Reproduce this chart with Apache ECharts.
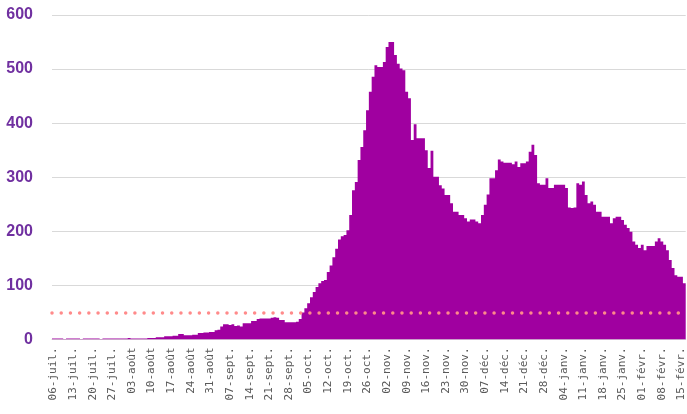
<!DOCTYPE html>
<html>
<head>
<meta charset="utf-8">
<script src="https://cdn.jsdelivr.net/npm/echarts@6/dist/echarts.min.js"></script>
<style>
  html, body { margin: 0; padding: 0; background: #fff; }
  #container { width: 687px; height: 414px; }
</style>
</head>
<body>
<div id="container"></div>
<script>
var dom = document.getElementById("container");
var myChart = echarts.init(dom, null, { renderer: 'canvas' });

// jours depuis le 06-juil.
var startDate = [2020, 6, 6];
var monthNames = ['janv.', 'févr.', 'mars', 'avr.', 'mai', 'juin', 'juil.', 'août', 'sept.', 'oct.', 'nov.', 'déc.'];

// valeurs quotidiennes
var summer = [2,2,2,2,1,2,2, 2,2,2,1,2,2,2, 2,2,2,1,2,2,2, 2,2,2,2,2,2,3, 2,2,2,2,2,2,
  3,3,3,4,4,4, 6,6,6,7,7, 10,10, 8,8,8,9,9, 12,12,13,13,14,14, 17,18, 24,
  28,28,27,28, 25,26,24, 30,30,30, 34,34, 38,39,39,39,39, 40,41,40, 36,36, 32,32,32,32,33];
var autumn = [38,50,58,67,78,88,97,104,108,110,125,137,152,168,185,191,193,202,230,276,291,332,356,387,
  424,458,486,507,504,504,513,541,550,550,526,510,501,498,458,446,
  369,398,372,372,372,350,317,349,301,301,285,279,267,267,252,236,236,230,230,224];
var winter = [218,222,222,218,215,230,249,268,298,298,313,333,329,327,327,327,324,329,319,326,326,329,347,360,341,
  289,286,286,298,280,280,286,286,286,286,280,244,243,244,289,286,292,267,252,255,249,236,236,227,227,227,215,
  224,227,227,221,212,206,199,181,175,169,175,165,173,173,173,181,187,181,175,165,147,132,119,116,116,104];
var values = summer.concat(autumn, winter);

var threshold = 50;
var yTicks = { min: 0, max: 600, interval: 100 };
var barColor = '#a000a0';

var days = values.map(function (v, i) {
  var d = new Date(Date.UTC(startDate[0], startDate[1], startDate[2] + i));
  var dd = ('0' + d.getUTCDate()).slice(-2);
  return dd + '-' + monthNames[d.getUTCMonth()];
});

var option = {
  animation: false,
  grid: { left: 52, right: 0, top: 15, bottom: 74.5 },
  xAxis: {
    type: 'category',
    data: days,
    boundaryGap: true,
    axisLine: { lineStyle: { color: '#d9d9d9', width: 1 } },
    axisTick: { show: false },
    axisLabel: {
      interval: 6,
      rotate: 90,
      margin: 8,
      color: '#595959',
      fontFamily: 'DejaVu Sans Mono',
      fontSize: 11
    }
  },
  yAxis: {
    type: 'value',
    min: yTicks.min,
    max: yTicks.max,
    interval: yTicks.interval,
    axisLine: { show: false },
    axisTick: { show: false },
    splitLine: { lineStyle: { color: '#d9d9d9', width: 1 } },
    axisLabel: {
      margin: 19,
      color: '#7030a0',
      fontWeight: 'bold',
      fontFamily: 'Liberation Sans',
      fontSize: 16
    }
  },
  series: [{
    type: 'bar',
    data: values,
    large: true,
    largeThreshold: 50,
    barCategoryGap: '0%',
    itemStyle: { color: barColor },
    markLine: {
      silent: true,
      symbol: 'none',
      label: { show: false },
      lineStyle: { color: '#ff8a8a', width: 3.5, type: [0.01, 9.2], cap: 'round' },
      data: [{ yAxis: threshold }]
    }
  }]
};

myChart.setOption(option);
</script>
</body>
</html>
